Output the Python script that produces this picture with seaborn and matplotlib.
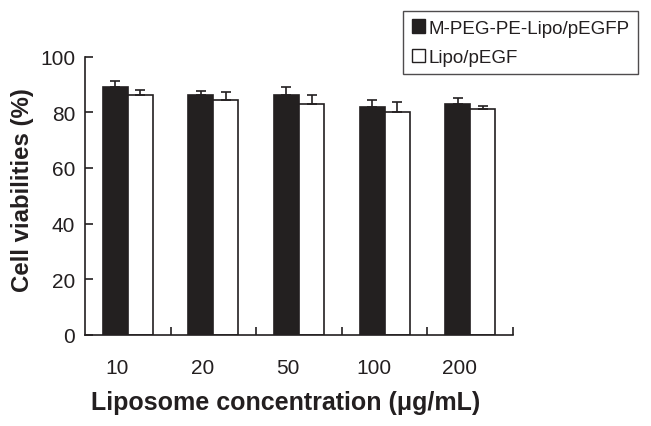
import matplotlib
matplotlib.use("Agg")
import matplotlib.pyplot as plt
import matplotlib.transforms as mtransforms
import seaborn as sns
import pandas as pd
import numpy as np

categories = ["10", "20", "50", "100", "200"]
series_names = ["M-PEG-PE-Lipo/pEGFP", "Lipo/pEGF"]
mpeg_values = [89.0, 86.4, 86.4, 82.0, 83.1]
mpeg_errors = [2.3, 1.2, 2.8, 2.3, 2.2]
lipo_values = [86.4, 84.3, 83.0, 80.2, 81.1]
lipo_errors = [1.6, 2.9, 3.4, 3.4, 1.3]
y_ticks = [0, 20, 40, 60, 80, 100]

dark = "#231f20"

sns.set_theme(style="ticks")
plt.rcParams["font.family"] = ["Liberation Sans", "DejaVu Sans"]

df = pd.DataFrame({
    "conc": categories * 2,
    "series": [series_names[0]] * len(categories) + [series_names[1]] * len(categories),
    "value": mpeg_values + lipo_values,
})

fig = plt.figure(figsize=(6.51, 4.27), dpi=100)
ax = fig.add_axes([85 / 651, 1 - 335.7 / 427, (513 - 85) / 651, (335.7 - 57.7) / 427])

sns.barplot(data=df, x="conc", y="value", hue="series", order=categories,
            hue_order=series_names, palette={series_names[0]: dark, series_names[1]: "white"},
            edgecolor=dark, linewidth=1.2, width=0.585, errorbar=None, ax=ax, legend=True)

errs = [mpeg_errors, lipo_errors]
for cont, e in zip(ax.containers, errs):
    xs = [b.get_x() + b.get_width() / 2 for b in cont]
    hs = [b.get_height() for b in cont]
    ax.errorbar(xs, hs, yerr=[np.zeros(len(e)), e], fmt="none", ecolor=dark,
                elinewidth=1.2, capsize=3.6, capthick=1.2, zorder=3)

ax.set_xlim(-0.5, 4.5)
ax.set_ylim(0, 100)
ax.set_yticks(y_ticks)
ax.set_xticks(np.arange(len(categories)))
ax.set_xticklabels(categories)
ax.set_xticks(np.arange(len(categories)) + 0.5, minor=True)
ax.tick_params(axis="x", which="major", length=0, pad=17, labelsize=15, labelcolor=dark)
ax.tick_params(axis="x", which="minor", direction="in", length=6, width=1.2, color=dark)
ax.tick_params(axis="y", direction="in", length=6, width=1.2, color=dark, pad=7,
               labelsize=15, labelcolor=dark)
offset = mtransforms.ScaledTranslation(-11 / 100, 0, fig.dpi_scale_trans)
for lbl in ax.get_xticklabels():
    lbl.set_transform(lbl.get_transform() + offset)

for s in ["top", "right"]:
    ax.spines[s].set_visible(False)
for s in ["left", "bottom"]:
    ax.spines[s].set_color(dark)
    ax.spines[s].set_linewidth(1.2)

ax.set_xlabel("Liposome concentration (μg/mL)", fontsize=18, fontweight="bold", color=dark,
              va="baseline", ha="center")
ax.xaxis.set_label_coords((286 - 85) / 428, (335.7 - 410) / 278)
ax.set_ylabel("Cell viabilities (%)", fontsize=17.3, fontweight="bold", color=dark,
              va="center", ha="center")
ax.yaxis.set_label_coords((22.5 - 85) / 428, (335.7 - 190) / 278)

leg = ax.get_legend()
handles = leg.legend_handles
leg.remove()
leg = fig.legend(handles, series_names, loc="upper right", bbox_to_anchor=(638 / 651, 1 - 12 / 427),
                 bbox_transform=fig.transFigure, frameon=True, fancybox=False, fontsize=13.5,
                 handlelength=0.7, handleheight=0.7, handletextpad=0.2, labelspacing=0.65,
                 borderpad=0.45, borderaxespad=0)
leg.get_frame().set_edgecolor(dark)
leg.get_frame().set_linewidth(1.0)
for h in leg.legend_handles:
    h.set_edgecolor(dark)
    h.set_linewidth(1.0)
for t in leg.get_texts():
    t.set_color(dark)

fig.savefig("out.png", dpi=100)
